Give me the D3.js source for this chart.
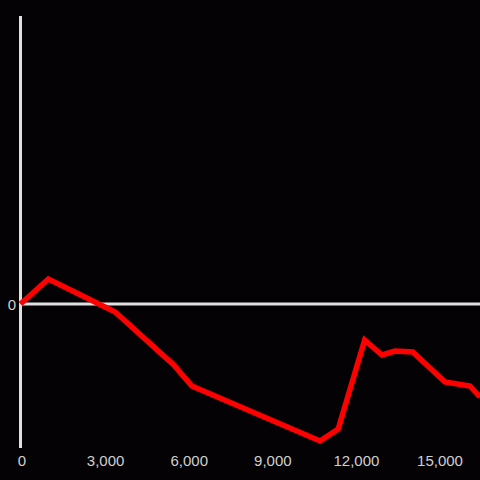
<!DOCTYPE html>
<html><head><meta charset="utf-8">
<script src="https://cdn.jsdelivr.net/npm/d3@7"></script>
<style>html,body{margin:0;padding:0;background:#040204;}svg{display:block;}</style>
</head><body>
<script>
const xValues = [0, 1000, 3400, 5500, 6150, 10750, 11400, 12350, 12970, 13440, 14080, 15230, 16130, 16490];
const yValues = [0, 25, -8, -61, -82, -137, -125, -36, -51, -47, -48, -78, -82, -93];
const xTicks = [0, 3000, 6000, 9000, 12000, 15000];
const yTicks = [0];

const W = 480, H = 480;
const svg = d3.select("body").append("svg").attr("width", W).attr("height", H)
  .style("background", "#040204");

const x = d3.scaleLinear().domain([0, 3000]).range([20.5, 20.5 + 83.6]);
const y = d3.scaleLinear().domain([-144, 288]).range([448, 16]);

svg.append("defs").append("clipPath").attr("id", "clip")
  .append("rect").attr("x", 0).attr("y", 0).attr("width", W).attr("height", H);

svg.append("line").attr("x1", 20.5).attr("x2", 20.5).attr("y1", y(288)).attr("y2", y(-144))
  .attr("stroke", "#e0e0e0").attr("stroke-width", 3);

svg.append("line").attr("x1", 20.5).attr("x2", W).attr("y1", y(0)).attr("y2", y(0))
  .attr("stroke", "#e0e0e0").attr("stroke-width", 3);

const font = "'Liberation Sans', Arial, sans-serif";
const xAxis = d3.axisBottom(x).tickValues(xTicks).tickFormat(d3.format(",")).tickSize(0).tickPadding(0);
const gx = svg.append("g").attr("transform", "translate(1,455)").call(xAxis);
gx.select(".domain").remove();
gx.selectAll("text").attr("fill", "#d0d0d0").style("font-family", font).style("font-size", "15px");

const yAxis = d3.axisLeft(y).tickValues(yTicks).tickFormat(d3.format(",")).tickSize(0).tickPadding(4);
const gy = svg.append("g").attr("transform", "translate(20,1)").call(yAxis);
gy.select(".domain").remove();
gy.selectAll("text").attr("fill", "#d0d0d0").style("font-family", font).style("font-size", "15px");

const data = xValues.map((v, i) => [v, yValues[i]]);
svg.append("path").datum(data)
  .attr("clip-path", "url(#clip)")
  .attr("fill", "none").attr("stroke", "#ff0000").attr("stroke-width", 5.5)
  .attr("stroke-linejoin", "miter")
  .attr("d", d3.line().x(d => x(d[0])).y(d => y(d[1])));
</script>
</body></html>
